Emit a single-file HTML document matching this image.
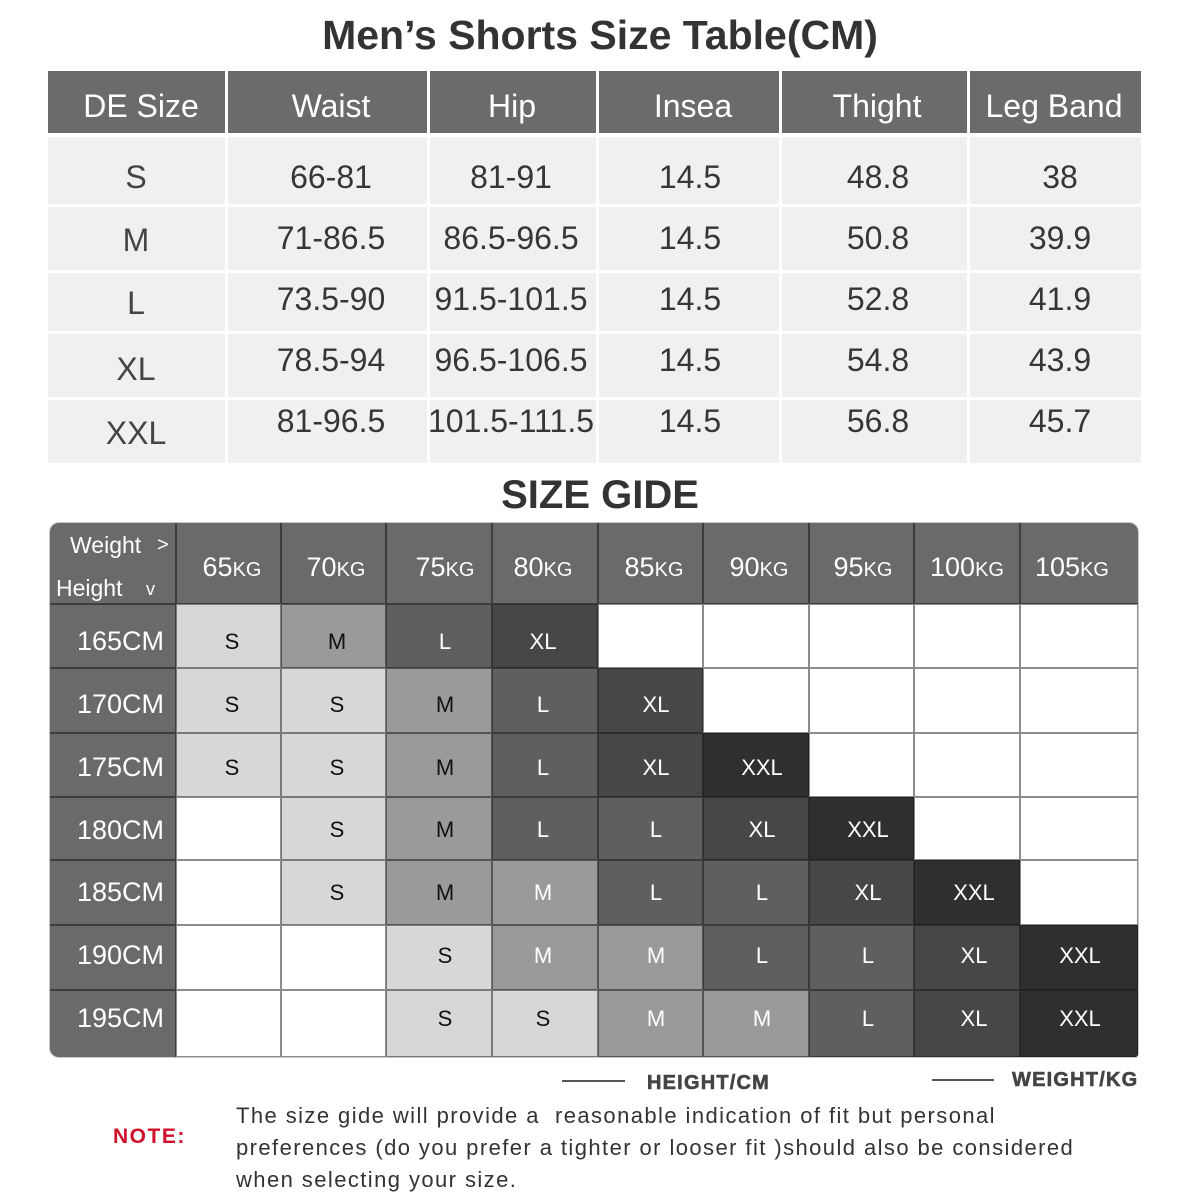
<!DOCTYPE html>
<html><head><meta charset="utf-8">
<style>
*{margin:0;padding:0;box-sizing:border-box}
body{width:1200px;height:1200px;background:#fff;position:relative;overflow:hidden;font-family:"Liberation Sans",Arial,sans-serif}
.a{position:absolute}
.h{position:absolute;background:#6b6b6b}
.d{position:absolute;background:#f0f0f2}
.th{position:absolute;width:200px;text-align:center;white-space:nowrap;color:#fff;font-size:32px;line-height:40px}
.td{position:absolute;width:200px;text-align:center;white-space:nowrap;color:#363636;font-size:32px;line-height:40px}
.c{position:absolute}
.E{background:#fff;border:1px solid #8c8c8c}
.S{background:#d7d7d7;border:1px solid #7a7a7a}
.M{background:#9a9a9a;border:1px solid #555}
.L{background:#5f5f5f;border:1px solid #3a3a3a}
.X{background:#474747;border:1px solid #2e2e2e}
.XX{background:#2f2f2f;border:1px solid #222}
.g{position:absolute;width:100px;text-align:center;font-size:22px;line-height:30px;white-space:nowrap}
.k{color:#111}.w{color:#fff}
.hd{position:absolute;width:120px;text-align:center;color:#fff;white-space:nowrap;line-height:40px}
.hd b{font-weight:normal;font-size:27px}
.hd i{font-style:normal;font-size:20px}
.rl{position:absolute;left:50px;width:118px;text-align:right;color:#fff;font-size:27px;line-height:40px}
.vl{position:absolute;width:2px;background:#3d3d3d}
.hl{position:absolute;height:2px;background:#3d3d3d}
</style></head><body>

<div class="a" style="left:0;top:12px;width:1200px;text-align:center;font-size:41px;font-weight:bold;color:#333;line-height:46px">Men’s Shorts Size Table(CM)</div>

<!-- top table header -->
<div class="h" style="left:48px;top:71px;width:177px;height:62px"></div>
<div class="h" style="left:228px;top:71px;width:199px;height:62px"></div>
<div class="h" style="left:430px;top:71px;width:166px;height:62px"></div>
<div class="h" style="left:599px;top:71px;width:180px;height:62px"></div>
<div class="h" style="left:782px;top:71px;width:185px;height:62px"></div>
<div class="h" style="left:970px;top:71px;width:171px;height:62px"></div>
<div class="th" style="left:41px;top:86px">DE Size</div>
<div class="th" style="left:231px;top:86px">Waist</div>
<div class="th" style="left:412px;top:86px">Hip</div>
<div class="th" style="left:593px;top:86px">Insea</div>
<div class="th" style="left:777px;top:86px">Thight</div>
<div class="th" style="left:954px;top:86px">Leg Band</div>

<!-- data rows backgrounds -->
<div class="d" style="left:48px;top:137px;width:177px;height:67px"></div>
<div class="d" style="left:228px;top:137px;width:199px;height:67px"></div>
<div class="d" style="left:430px;top:137px;width:166px;height:67px"></div>
<div class="d" style="left:599px;top:137px;width:180px;height:67px"></div>
<div class="d" style="left:782px;top:137px;width:185px;height:67px"></div>
<div class="d" style="left:970px;top:137px;width:171px;height:67px"></div>

<div class="d" style="left:48px;top:207px;width:177px;height:63px"></div>
<div class="d" style="left:228px;top:207px;width:199px;height:63px"></div>
<div class="d" style="left:430px;top:207px;width:166px;height:63px"></div>
<div class="d" style="left:599px;top:207px;width:180px;height:63px"></div>
<div class="d" style="left:782px;top:207px;width:185px;height:63px"></div>
<div class="d" style="left:970px;top:207px;width:171px;height:63px"></div>

<div class="d" style="left:48px;top:273px;width:177px;height:58px"></div>
<div class="d" style="left:228px;top:273px;width:199px;height:58px"></div>
<div class="d" style="left:430px;top:273px;width:166px;height:58px"></div>
<div class="d" style="left:599px;top:273px;width:180px;height:58px"></div>
<div class="d" style="left:782px;top:273px;width:185px;height:58px"></div>
<div class="d" style="left:970px;top:273px;width:171px;height:58px"></div>

<div class="d" style="left:48px;top:334px;width:177px;height:63px"></div>
<div class="d" style="left:228px;top:334px;width:199px;height:63px"></div>
<div class="d" style="left:430px;top:334px;width:166px;height:63px"></div>
<div class="d" style="left:599px;top:334px;width:180px;height:63px"></div>
<div class="d" style="left:782px;top:334px;width:185px;height:63px"></div>
<div class="d" style="left:970px;top:334px;width:171px;height:63px"></div>

<div class="d" style="left:48px;top:400px;width:177px;height:63px"></div>
<div class="d" style="left:228px;top:400px;width:199px;height:63px"></div>
<div class="d" style="left:430px;top:400px;width:166px;height:63px"></div>
<div class="d" style="left:599px;top:400px;width:180px;height:63px"></div>
<div class="d" style="left:782px;top:400px;width:185px;height:63px"></div>
<div class="d" style="left:970px;top:400px;width:171px;height:63px"></div>

<!-- data text -->
<div class="td" style="left:36px;top:157px;color:#444">S</div>
<div class="td" style="left:231px;top:157px">66-81</div>
<div class="td" style="left:411px;top:157px">81-91</div>
<div class="td" style="left:590px;top:157px">14.5</div>
<div class="td" style="left:778px;top:157px">48.8</div>
<div class="td" style="left:960px;top:157px">38</div>

<div class="td" style="left:36px;top:220px;color:#444">M</div>
<div class="td" style="left:231px;top:218px">71-86.5</div>
<div class="td" style="left:411px;top:218px">86.5-96.5</div>
<div class="td" style="left:590px;top:218px">14.5</div>
<div class="td" style="left:778px;top:218px">50.8</div>
<div class="td" style="left:960px;top:218px">39.9</div>

<div class="td" style="left:36px;top:283px;color:#444">L</div>
<div class="td" style="left:231px;top:279px">73.5-90</div>
<div class="td" style="left:411px;top:279px">91.5-101.5</div>
<div class="td" style="left:590px;top:279px">14.5</div>
<div class="td" style="left:778px;top:279px">52.8</div>
<div class="td" style="left:960px;top:279px">41.9</div>

<div class="td" style="left:36px;top:349px;color:#444">XL</div>
<div class="td" style="left:231px;top:340px">78.5-94</div>
<div class="td" style="left:411px;top:340px">96.5-106.5</div>
<div class="td" style="left:590px;top:340px">14.5</div>
<div class="td" style="left:778px;top:340px">54.8</div>
<div class="td" style="left:960px;top:340px">43.9</div>

<div class="td" style="left:36px;top:413px;color:#444">XXL</div>
<div class="td" style="left:231px;top:401px">81-96.5</div>
<div class="td" style="left:411px;top:401px">101.5-111.5</div>
<div class="td" style="left:590px;top:401px">14.5</div>
<div class="td" style="left:778px;top:401px">56.8</div>
<div class="td" style="left:960px;top:401px">45.7</div>

<div class="a" style="left:0;top:472px;width:1200px;text-align:center;font-size:40px;font-weight:bold;color:#333;line-height:46px">SIZE GIDE</div>

<!-- grid container -->
<div class="a" style="left:50px;top:523px;width:1088px;height:534px;background:#6a6a6a;border-radius:9px 9px 3px 9px;box-shadow:0 0 0 1px #c8c8c8"></div>

<!-- header lines -->
<div class="vl" style="left:175px;top:523px;height:534px"></div>
<div class="vl" style="left:280px;top:523px;height:81px"></div>
<div class="vl" style="left:385px;top:523px;height:81px"></div>
<div class="vl" style="left:491px;top:523px;height:81px"></div>
<div class="vl" style="left:597px;top:523px;height:81px"></div>
<div class="vl" style="left:702px;top:523px;height:81px"></div>
<div class="vl" style="left:808px;top:523px;height:81px"></div>
<div class="vl" style="left:913px;top:523px;height:81px"></div>
<div class="vl" style="left:1019px;top:523px;height:81px"></div>
<div class="hl" style="left:50px;top:603px;width:1088px"></div>
<div class="hl" style="left:50px;top:667px;width:126px"></div>
<div class="hl" style="left:50px;top:732px;width:126px"></div>
<div class="hl" style="left:50px;top:796px;width:126px"></div>
<div class="hl" style="left:50px;top:859px;width:126px"></div>
<div class="hl" style="left:50px;top:924px;width:126px"></div>
<div class="hl" style="left:50px;top:989px;width:126px"></div>

<!-- header text -->
<div class="a" style="left:70px;top:530px;color:#fff;font-size:23px;line-height:30px">Weight</div>
<div class="a" style="left:157px;top:530px;color:#fff;font-size:20px;line-height:30px">&gt;</div>
<div class="a" style="left:56px;top:573px;color:#fff;font-size:23px;line-height:30px">Height</div>
<div class="a" style="left:146px;top:574px;color:#fff;font-size:18px;line-height:30px">v</div>

<div class="hd" style="left:172px;top:547px"><b>65</b><i>KG</i></div>
<div class="hd" style="left:276px;top:547px"><b>70</b><i>KG</i></div>
<div class="hd" style="left:385px;top:547px"><b>75</b><i>KG</i></div>
<div class="hd" style="left:483px;top:547px"><b>80</b><i>KG</i></div>
<div class="hd" style="left:594px;top:547px"><b>85</b><i>KG</i></div>
<div class="hd" style="left:699px;top:547px"><b>90</b><i>KG</i></div>
<div class="hd" style="left:803px;top:547px"><b>95</b><i>KG</i></div>
<div class="hd" style="left:907px;top:547px"><b>100</b><i>KG</i></div>
<div class="hd" style="left:1012px;top:547px"><b>105</b><i>KG</i></div>

<!-- row labels -->
<div class="rl" style="top:621px;left:46px">165CM</div>
<div class="rl" style="top:684px;left:46px">170CM</div>
<div class="rl" style="top:747px;left:46px">175CM</div>
<div class="rl" style="top:810px;left:46px">180CM</div>
<div class="rl" style="top:872px;left:46px">185CM</div>
<div class="rl" style="top:935px;left:46px">190CM</div>
<div class="rl" style="top:998px;left:46px">195CM</div>

<!-- row 165 -->
<div class="c S" style="left:176px;top:604px;width:105px;height:64px"></div>
<div class="c M" style="left:281px;top:604px;width:105px;height:64px"></div>
<div class="c L" style="left:386px;top:604px;width:106px;height:64px"></div>
<div class="c X" style="left:492px;top:604px;width:106px;height:64px"></div>
<div class="c E" style="left:598px;top:604px;width:105px;height:64px"></div>
<div class="c E" style="left:703px;top:604px;width:106px;height:64px"></div>
<div class="c E" style="left:809px;top:604px;width:105px;height:64px"></div>
<div class="c E" style="left:914px;top:604px;width:106px;height:64px"></div>
<div class="c E" style="left:1020px;top:604px;width:118px;height:64px"></div>
<!-- row 170 -->
<div class="c S" style="left:176px;top:668px;width:105px;height:65px"></div>
<div class="c S" style="left:281px;top:668px;width:105px;height:65px"></div>
<div class="c M" style="left:386px;top:668px;width:106px;height:65px"></div>
<div class="c L" style="left:492px;top:668px;width:106px;height:65px"></div>
<div class="c X" style="left:598px;top:668px;width:105px;height:65px"></div>
<div class="c E" style="left:703px;top:668px;width:106px;height:65px"></div>
<div class="c E" style="left:809px;top:668px;width:105px;height:65px"></div>
<div class="c E" style="left:914px;top:668px;width:106px;height:65px"></div>
<div class="c E" style="left:1020px;top:668px;width:118px;height:65px"></div>
<!-- row 175 -->
<div class="c S" style="left:176px;top:733px;width:105px;height:64px"></div>
<div class="c S" style="left:281px;top:733px;width:105px;height:64px"></div>
<div class="c M" style="left:386px;top:733px;width:106px;height:64px"></div>
<div class="c L" style="left:492px;top:733px;width:106px;height:64px"></div>
<div class="c X" style="left:598px;top:733px;width:105px;height:64px"></div>
<div class="c XX" style="left:703px;top:733px;width:106px;height:64px"></div>
<div class="c E" style="left:809px;top:733px;width:105px;height:64px"></div>
<div class="c E" style="left:914px;top:733px;width:106px;height:64px"></div>
<div class="c E" style="left:1020px;top:733px;width:118px;height:64px"></div>
<!-- row 180 -->
<div class="c E" style="left:176px;top:797px;width:105px;height:63px"></div>
<div class="c S" style="left:281px;top:797px;width:105px;height:63px"></div>
<div class="c M" style="left:386px;top:797px;width:106px;height:63px"></div>
<div class="c L" style="left:492px;top:797px;width:106px;height:63px"></div>
<div class="c L" style="left:598px;top:797px;width:105px;height:63px"></div>
<div class="c X" style="left:703px;top:797px;width:106px;height:63px"></div>
<div class="c XX" style="left:809px;top:797px;width:105px;height:63px"></div>
<div class="c E" style="left:914px;top:797px;width:106px;height:63px"></div>
<div class="c E" style="left:1020px;top:797px;width:118px;height:63px"></div>
<!-- row 185 -->
<div class="c E" style="left:176px;top:860px;width:105px;height:65px"></div>
<div class="c S" style="left:281px;top:860px;width:105px;height:65px"></div>
<div class="c M" style="left:386px;top:860px;width:106px;height:65px"></div>
<div class="c M" style="left:492px;top:860px;width:106px;height:65px"></div>
<div class="c L" style="left:598px;top:860px;width:105px;height:65px"></div>
<div class="c L" style="left:703px;top:860px;width:106px;height:65px"></div>
<div class="c X" style="left:809px;top:860px;width:105px;height:65px"></div>
<div class="c XX" style="left:914px;top:860px;width:106px;height:65px"></div>
<div class="c E" style="left:1020px;top:860px;width:118px;height:65px"></div>
<!-- row 190 -->
<div class="c E" style="left:176px;top:925px;width:105px;height:65px"></div>
<div class="c E" style="left:281px;top:925px;width:105px;height:65px"></div>
<div class="c S" style="left:386px;top:925px;width:106px;height:65px"></div>
<div class="c M" style="left:492px;top:925px;width:106px;height:65px"></div>
<div class="c M" style="left:598px;top:925px;width:105px;height:65px"></div>
<div class="c L" style="left:703px;top:925px;width:106px;height:65px"></div>
<div class="c L" style="left:809px;top:925px;width:105px;height:65px"></div>
<div class="c X" style="left:914px;top:925px;width:106px;height:65px"></div>
<div class="c XX" style="left:1020px;top:925px;width:118px;height:65px"></div>
<!-- row 195 -->
<div class="c E" style="left:176px;top:990px;width:105px;height:67px"></div>
<div class="c E" style="left:281px;top:990px;width:105px;height:67px"></div>
<div class="c S" style="left:386px;top:990px;width:106px;height:67px"></div>
<div class="c S" style="left:492px;top:990px;width:106px;height:67px"></div>
<div class="c M" style="left:598px;top:990px;width:105px;height:67px"></div>
<div class="c M" style="left:703px;top:990px;width:106px;height:67px"></div>
<div class="c L" style="left:809px;top:990px;width:105px;height:67px"></div>
<div class="c X" style="left:914px;top:990px;width:106px;height:67px"></div>
<div class="c XX" style="left:1020px;top:990px;width:118px;height:67px;border-bottom-right-radius:3px"></div>

<!-- cell text -->
<div class="g k" style="left:182px;top:627px">S</div>
<div class="g k" style="left:287px;top:627px">M</div>
<div class="g w" style="left:395px;top:627px">L</div>
<div class="g w" style="left:493px;top:627px">XL</div>

<div class="g k" style="left:182px;top:690px">S</div>
<div class="g k" style="left:287px;top:690px">S</div>
<div class="g k" style="left:395px;top:690px">M</div>
<div class="g w" style="left:493px;top:690px">L</div>
<div class="g w" style="left:606px;top:690px">XL</div>

<div class="g k" style="left:182px;top:753px">S</div>
<div class="g k" style="left:287px;top:753px">S</div>
<div class="g k" style="left:395px;top:753px">M</div>
<div class="g w" style="left:493px;top:753px">L</div>
<div class="g w" style="left:606px;top:753px">XL</div>
<div class="g w" style="left:712px;top:753px">XXL</div>

<div class="g k" style="left:287px;top:815px">S</div>
<div class="g k" style="left:395px;top:815px">M</div>
<div class="g w" style="left:493px;top:815px">L</div>
<div class="g w" style="left:606px;top:815px">L</div>
<div class="g w" style="left:712px;top:815px">XL</div>
<div class="g w" style="left:818px;top:815px">XXL</div>

<div class="g k" style="left:287px;top:878px">S</div>
<div class="g k" style="left:395px;top:878px">M</div>
<div class="g w" style="left:493px;top:878px">M</div>
<div class="g w" style="left:606px;top:878px">L</div>
<div class="g w" style="left:712px;top:878px">L</div>
<div class="g w" style="left:818px;top:878px">XL</div>
<div class="g w" style="left:924px;top:878px">XXL</div>

<div class="g k" style="left:395px;top:941px">S</div>
<div class="g w" style="left:493px;top:941px">M</div>
<div class="g w" style="left:606px;top:941px">M</div>
<div class="g w" style="left:712px;top:941px">L</div>
<div class="g w" style="left:818px;top:941px">L</div>
<div class="g w" style="left:924px;top:941px">XL</div>
<div class="g w" style="left:1030px;top:941px">XXL</div>

<div class="g k" style="left:395px;top:1004px">S</div>
<div class="g k" style="left:493px;top:1004px">S</div>
<div class="g w" style="left:606px;top:1004px">M</div>
<div class="g w" style="left:712px;top:1004px">M</div>
<div class="g w" style="left:818px;top:1004px">L</div>
<div class="g w" style="left:924px;top:1004px">XL</div>
<div class="g w" style="left:1030px;top:1004px">XXL</div>

<!-- legend -->
<div class="a" style="left:562px;top:1080px;width:63px;height:2px;background:#555"></div>
<div class="a" style="left:647px;top:1070px;font-size:20px;font-weight:bold;color:#444;letter-spacing:1.2px;line-height:26px;-webkit-text-stroke:0.6px #444">HEIGHT/CM</div>
<div class="a" style="left:932px;top:1079px;width:62px;height:2px;background:#555"></div>
<div class="a" style="left:1012px;top:1067px;font-size:20px;font-weight:bold;color:#444;letter-spacing:1.2px;line-height:26px;-webkit-text-stroke:0.6px #444">WEIGHT/KG</div>

<!-- note -->
<div class="a" style="left:113px;top:1124px;font-size:21px;font-weight:bold;color:#d0102a;letter-spacing:1.5px;line-height:26px">NOTE:</div>
<div class="a" style="left:236px;top:1100px;font-size:22px;color:#333;letter-spacing:1.42px;line-height:32px;white-space:pre">The size gide will provide a  reasonable indication of fit but personal
preferences (do you prefer a tighter or looser fit )should also be considered
when selecting your size.</div>

</body></html>
